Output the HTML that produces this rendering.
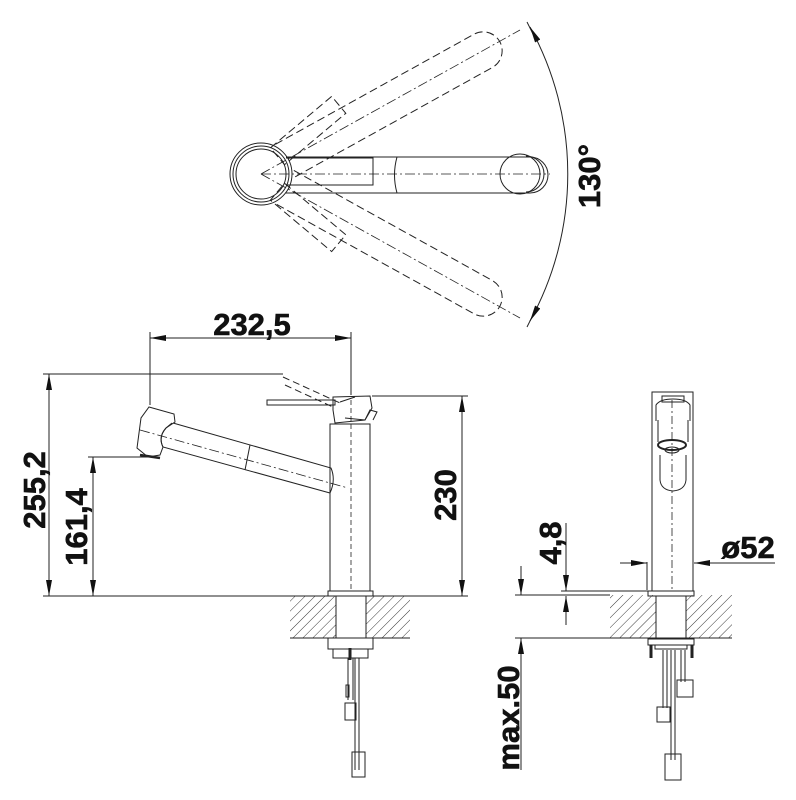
<!DOCTYPE html>
<html><head><meta charset="utf-8"><style>
html,body{margin:0;padding:0;background:#fff}
svg{display:block}
text{font-family:"Liberation Sans",Arial,sans-serif;font-weight:bold;fill:#111}
</style></head><body>
<svg width="796" height="800" viewBox="0 0 796 800" xmlns="http://www.w3.org/2000/svg">
<defs>
<pattern id="h" width="7" height="7" patternUnits="userSpaceOnUse" patternTransform="rotate(45)">
<line x1="0" y1="0" x2="0" y2="7" stroke="#222" stroke-width="0.9"/>
</pattern>
<marker id="a" viewBox="0 0 16 6" refX="16" refY="3" markerWidth="16" markerHeight="6" orient="auto-start-reverse" markerUnits="userSpaceOnUse">
<path d="M0,0 L16,3 L0,6 Z" fill="#111"/>
</marker>
</defs>
<g fill="none" stroke="#222" stroke-width="1">

<!-- TOP VIEW -->
<g stroke-dasharray="8,4">
<g transform="rotate(-29 261 174)">
<path d="M288,155 L515,155 A19,19 0 0 1 515,193 L288,193"/>
</g>
<g transform="rotate(-40 261 174)">
<rect x="285" y="160" width="80" height="22"/>
</g>
<g transform="rotate(29 261 174)">
<path d="M288,155 L515,155 A19,19 0 0 1 515,193 L288,193"/>
</g>
<g transform="rotate(40 261 174)">
<rect x="285" y="166" width="80" height="22"/>
</g>
</g>
<circle cx="261" cy="174" r="31"/>
<circle cx="261" cy="174" r="28"/>
<circle cx="261" cy="174" r="25"/>
<path d="M286,157 L530,157 A18,18 0 0 1 530,193 L286,193"/>
<path d="M286,158 L373,158 L373,185 L286,185"/>
<path d="M397,157 Q392,175 397,193"/>
<circle cx="520" cy="174" r="20"/>
<path d="M526,156 A18,18 0 0 1 526,192"/>
<g stroke-dasharray="10,3,2,3" stroke-width="0.8">
<line x1="261" y1="174" x2="550" y2="174"/>
<line x1="261" y1="174" x2="520" y2="30"/>
<line x1="261" y1="174" x2="520" y2="318"/>
</g>
<line x1="527" y1="22" x2="535" y2="38"/>
<line x1="527" y1="327" x2="535" y2="311"/>
<path d="M530,27 A305,305 0 0 1 530,321" marker-start="url(#a)" marker-end="url(#a)"/>

<!-- SIDE VIEW -->
<line x1="150" y1="338" x2="351" y2="338" marker-start="url(#a)" marker-end="url(#a)"/>
<line x1="150" y1="332" x2="150" y2="405"/>
<line x1="351" y1="332" x2="351" y2="395"/>
<line x1="43" y1="374" x2="283" y2="374"/>
<path d="M283,377 L340,403 M285,385 L335,408" stroke-dasharray="7,4"/>
<line x1="49" y1="374" x2="49" y2="596" marker-start="url(#a)" marker-end="url(#a)"/>
<line x1="88" y1="457" x2="152" y2="457"/>
<line x1="93" y1="457" x2="93" y2="596" marker-start="url(#a)" marker-end="url(#a)"/>
<line x1="43" y1="596" x2="468" y2="596"/>
<line x1="372" y1="396" x2="468" y2="396"/>
<line x1="462" y1="396" x2="462" y2="596" marker-start="url(#a)" marker-end="url(#a)"/>
<rect x="267" y="400" width="68" height="5"/>
<path d="M333,397 L370,396 L372,408 L365,420 L335,423 L333,410 Z"/>
<path d="M340,402 L355,397 M345,418 L365,420 L370,410 L377,412 L373,420"/>
<rect x="330" y="424" width="40" height="167"/>
<rect x="328" y="591" width="45" height="5"/>
<line x1="351" y1="400" x2="351" y2="590" stroke-dasharray="5,3" stroke-width="0.8"/>
<path d="M173,423 L331,468 Q336,480 330,493 L163,447 Q158,437 166,428 L172,423"/>
<line x1="250" y1="445" x2="245" y2="470"/>
<path d="M149,407 L174,414 L175,422 L166,428 Q158,437 163,447 L160,455 L148,457 L137,448 L141,418 Z"/>
<line x1="140" y1="455" x2="160" y2="458" stroke-width="2.5"/>
<line x1="140" y1="430" x2="348" y2="488" stroke-dasharray="10,3,2,3" stroke-width="0.8"/>
<rect x="290" y="596" width="46" height="42" fill="url(#h)" stroke="none"/>
<rect x="366" y="596" width="44" height="42" fill="url(#h)" stroke="none"/>
<line x1="290" y1="638" x2="410" y2="638"/>
<rect x="336" y="596" width="30" height="42"/>
<rect x="328" y="638" width="45" height="11"/>
<rect x="333" y="649" width="35" height="9"/>
<line x1="350" y1="648" x2="350" y2="660" stroke-width="3"/>
<path d="M348,658 L348,700 M353,658 L353,700 M355,658 L355,770 M359,658 L359,770"/>
<rect x="345" y="703" width="11" height="17"/>
<rect x="346" y="685" width="3" height="12"/>
<rect x="352" y="752" width="13" height="25"/>

<!-- FRONT VIEW -->
<path d="M652,591 L652,392 L693,392 L693,591"/>
<path d="M656,421 L656,405 Q660,399 673,399 Q686,399 690,405 L690,421"/>
<rect x="662" y="396" width="22" height="6"/>
<path d="M658,442 L658,420 M688,442 L688,420"/>
<ellipse cx="672" cy="445" rx="14" ry="5" stroke-width="2"/>
<ellipse cx="672" cy="450" rx="7" ry="3"/>
<path d="M660,455 L660,480 Q661,490 673,491 Q685,490 686,480 L686,455"/>
<line x1="672" y1="400" x2="672" y2="590" stroke-dasharray="8,3,2,3" stroke-width="0.8"/>
<line x1="647" y1="562" x2="647" y2="590"/>
<line x1="693" y1="562" x2="693" y2="590"/>
<rect x="648" y="591" width="46" height="5"/>
<line x1="620" y1="563" x2="647" y2="563" marker-end="url(#a)"/>
<line x1="775" y1="563" x2="694" y2="563" marker-end="url(#a)"/>
<line x1="561" y1="591" x2="648" y2="591"/>
<line x1="566" y1="523" x2="566" y2="591" marker-end="url(#a)"/>
<line x1="566" y1="625" x2="566" y2="596" marker-end="url(#a)"/>
<line x1="515" y1="595" x2="610" y2="595"/>
<line x1="515" y1="638" x2="610" y2="638"/>
<line x1="521" y1="566" x2="521" y2="595" marker-end="url(#a)"/>
<line x1="521" y1="770" x2="521" y2="638" marker-end="url(#a)"/>
<rect x="610" y="595" width="46" height="43" fill="url(#h)" stroke="none"/>
<rect x="686" y="595" width="46" height="43" fill="url(#h)" stroke="none"/>
<line x1="610" y1="638" x2="732" y2="638"/>
<rect x="656" y="596" width="30" height="42"/>
<rect x="648" y="639" width="46" height="6"/>
<rect x="655" y="645" width="32" height="4"/>
<line x1="651" y1="645" x2="651" y2="658" stroke-width="3"/>
<line x1="692" y1="645" x2="692" y2="658" stroke-width="3"/>
<path d="M663,650 L663,708 M667,650 L667,708 M671,650 L671,760 M675,650 L675,760 M681,650 L681,682 M685,650 L685,682"/>
<rect x="677" y="680" width="16" height="17"/>
<rect x="657" y="707" width="13" height="15"/>
<rect x="665" y="754" width="16" height="26"/>
</g>

<g stroke="#111" stroke-width="0.6">
<text x="252" y="335" font-size="31" text-anchor="middle">232,5</text>
<text transform="translate(45,490) rotate(-90)" font-size="31" text-anchor="middle">255,2</text>
<text transform="translate(87,527) rotate(-90)" font-size="31" text-anchor="middle">161,4</text>
<text transform="translate(456,495) rotate(-90)" font-size="31" text-anchor="middle">230</text>
<text transform="translate(600,176) rotate(-90)" font-size="31" text-anchor="middle">130°</text>
<text x="748" y="558" font-size="31" text-anchor="middle">ø52</text>
<text transform="translate(561,543) rotate(-90)" font-size="31" text-anchor="middle">4,8</text>
<text transform="translate(519,718) rotate(-90)" font-size="31" text-anchor="middle">max.50</text>
</g>
</svg>
</body></html>
